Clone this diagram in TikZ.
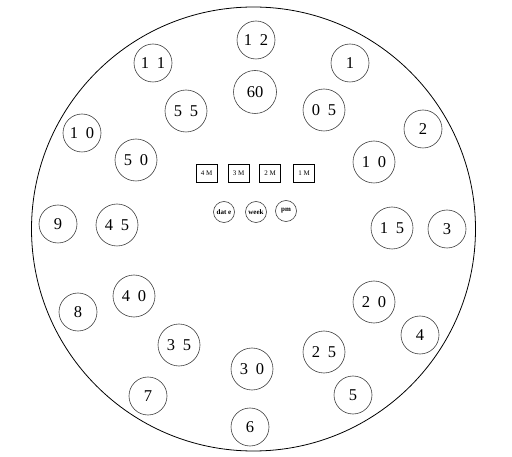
\documentclass[tikz,border=0pt]{standalone}
\usepackage{fontspec}
\setmainfont{Liberation Serif}
\newcommand{\dg}[2]{#1\hspace{8pt}#2}
\begin{document}
\begin{tikzpicture}[x=1pt,y=-1pt,
  hour/.style={circle,draw=black!75,line width=0.6pt,minimum size=38pt,inner sep=0pt,font=\fontsize{16.5}{16.5}\selectfont},
  minute/.style={circle,draw=black!75,line width=0.6pt,minimum size=42pt,inner sep=0pt,font=\fontsize{16.5}{16.5}\selectfont},
  mbox/.style={rectangle,draw=black,line width=0.7pt,minimum width=21pt,minimum height=18pt,inner sep=0pt,font=\fontsize{7}{7}\selectfont},
  mini/.style={circle,draw=black!75,line width=0.6pt,minimum size=21pt,inner sep=0pt,font=\fontsize{7}{7}\selectfont\bfseries}]
\useasboundingbox (0,0) rectangle (512,457);
\node[circle,draw=black,line width=0.8pt,minimum size=444pt,inner sep=0pt] (dial) at (253.5,229) {};
% hours
\node[hour] (h12) at (256,40) {\dg12};
\node[hour] (h1) at (350,63) {1};
\node[hour] (h2) at (423,129) {2};
\node[hour] (h3) at (447,229) {3};
\node[hour] (h4) at (420,335) {4};
\node[hour] (h5) at (353,395) {5};
\node[hour] (h6) at (250,427) {6};
\node[hour] (h7) at (148,396) {7};
\node[hour] (h8) at (78,312) {8};
\node[hour] (h9) at (58,224) {9};
\node[hour] (h10) at (82,133) {\dg10};
\node[hour] (h11) at (153,63) {\dg11};
% minutes
\node[minute,minimum size=43pt] (m60) at (255,92) {60};
\node[minute] (m05) at (324,110) {\dg05};
\node[minute] (m10) at (374,162) {\dg10};
\node[minute] (m15) at (392,228) {\dg15};
\node[minute] (m20) at (374,302) {\dg20};
\node[minute] (m25) at (324,352) {\dg25};
\node[minute] (m30) at (252,369) {\dg30};
\node[minute] (m35) at (179,345) {\dg35};
\node[minute] (m40) at (134,296) {\dg40};
\node[minute] (m45) at (117,225) {\dg45};
\node[minute] (m50) at (136,160) {\dg50};
\node[minute] (m55) at (186,111) {\dg55};
% center
\node[mbox] (b4) at (206.5,173) {4 M};
\node[mbox] (b3) at (238.5,173) {3 M};
\node[mbox] (b2) at (270,173) {2 M};
\node[mbox] (b1) at (304,173) {1 M};
\node[mini] (date) at (224,212) {dat e};
\node[mini] (week) at (256,212) {week};
\node[mini] (pm) at (286,211) {pm};
\end{tikzpicture}
\end{document}
